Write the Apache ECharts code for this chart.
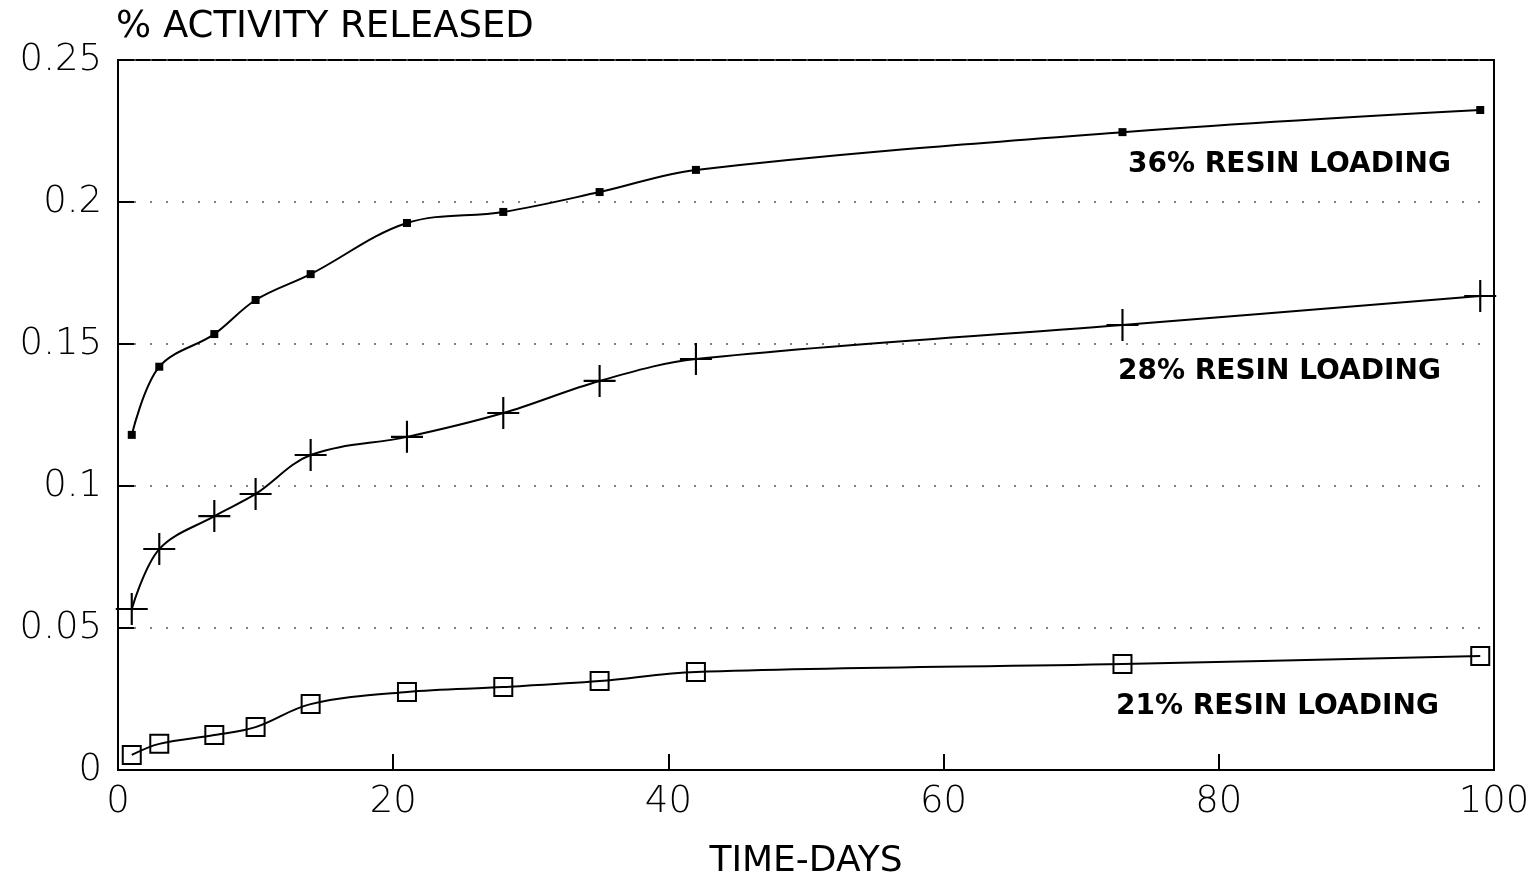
<!DOCTYPE html>
<html><head><meta charset="utf-8">
<script src="https://cdn.jsdelivr.net/npm/echarts@6/dist/echarts.min.js"></script>
<style>html,body{margin:0;padding:0;background:#fff}#c{width:1539px;height:883px}</style>
</head><body><div id="c"></div>
<script>
const days = [1, 3, 7, 10, 14, 21, 28, 35, 42, 73, 99];
const resin36 = [0.118, 0.142, 0.1535, 0.1655, 0.1746, 0.1926, 0.1965, 0.2035, 0.2113, 0.2246, 0.2324];
const resin28 = [0.0567, 0.0778, 0.0894, 0.0972, 0.1109, 0.1173, 0.1257, 0.137, 0.1447, 0.1567, 0.1669];
const resin21 = [0.0053, 0.0092, 0.0123, 0.0151, 0.0232, 0.0275, 0.0292, 0.0313, 0.0345, 0.0373, 0.0401];
const seriesNames = ['36% RESIN LOADING', '28% RESIN LOADING', '21% RESIN LOADING'];
const xTicks = [0, 20, 40, 60, 80, 100];
const yTicks = [0, 0.05, 0.1, 0.15, 0.2, 0.25];

const pair = arr => days.map((d, i) => [d, arr[i]]);
const font = 'DejaVu Sans';
const plus = 'path://M0,14L30,14L30,16L0,16Z M14,0L16,0L16,30L14,30Z';

const chart = echarts.init(document.getElementById('c'), null, {renderer: 'canvas'});
chart.setOption({
  backgroundColor: '#fff',
  animation: false,
  grid: {left: 118, right: 45, top: 60, bottom: 113, outerBoundsMode: 'none', containLabel: false,
    show: true, borderColor: '#000', borderWidth: 2, backgroundColor: 'transparent'},
  xAxis: {
    type: 'value', min: 0, max: 100, interval: 20,
    name: 'TIME-DAYS', nameLocation: 'middle', nameGap: 74,
    nameTextStyle: {fontFamily: font, fontWeight: 'normal', fontSize: 36, color: '#000'},
    axisLine: {show: true, lineStyle: {color: '#000', width: 2}},
    axisTick: {show: true, inside: true, length: 16, lineStyle: {color: '#000', width: 2}},
    axisLabel: {fontFamily: font, fontWeight: 200, fontSize: 37, color: '#000', margin: 14,
      formatter: v => xTicks.includes(v) ? String(v) : ''},
    splitLine: {show: false}
  },
  yAxis: {
    type: 'value', min: 0, max: 0.25, interval: 0.05,
    name: '% ACTIVITY RELEASED', nameLocation: 'end', nameGap: 14,
    nameTextStyle: {fontFamily: font, fontWeight: 'normal', fontSize: 37, color: '#000', align: 'left', padding: [0, 0, 0, -2]},
    axisLine: {show: true, lineStyle: {color: '#000', width: 2}},
    axisTick: {show: true, inside: true, length: 16, lineStyle: {color: '#000', width: 2}},
    axisLabel: {fontFamily: font, fontWeight: 200, fontSize: 37, color: '#000', margin: 16,
      formatter: v => { const t = yTicks.find(y => Math.abs(y - v) < 1e-9); return t === undefined ? '' : String(+t.toFixed(2)); }},
    splitLine: {show: true, lineStyle: {color: '#555', width: 1.5, type: [2, 14]}}
  },
  series: [
    {name: seriesNames[0], type: 'line', data: pair(resin36), smooth: 0.35,
     symbol: 'rect', symbolSize: 8, itemStyle: {color: '#000'},
     lineStyle: {color: '#000', width: 2}},
    {name: seriesNames[1], type: 'line', data: pair(resin28), smooth: 0.35,
     symbol: plus, symbolSize: 32, itemStyle: {color: '#000'},
     lineStyle: {color: '#000', width: 2}},
    {name: seriesNames[2], type: 'line', data: pair(resin21), smooth: 0.35,
     symbol: 'rect', symbolSize: 18, itemStyle: {color: 'rgba(255,255,255,0)', borderColor: '#000', borderWidth: 2},
     lineStyle: {color: '#000', width: 2}}
  ],
  graphic: [
    {type: 'text', left: 1128, top: 151, style: {text: seriesNames[0], font: 'bold 28px "DejaVu Sans"', fill: '#000'}},
    {type: 'text', left: 1118, top: 358, style: {text: seriesNames[1], font: 'bold 28px "DejaVu Sans"', fill: '#000'}},
    {type: 'text', left: 1116, top: 693, style: {text: seriesNames[2], font: 'bold 28px "DejaVu Sans"', fill: '#000'}}
  ]
});
</script></body></html>
